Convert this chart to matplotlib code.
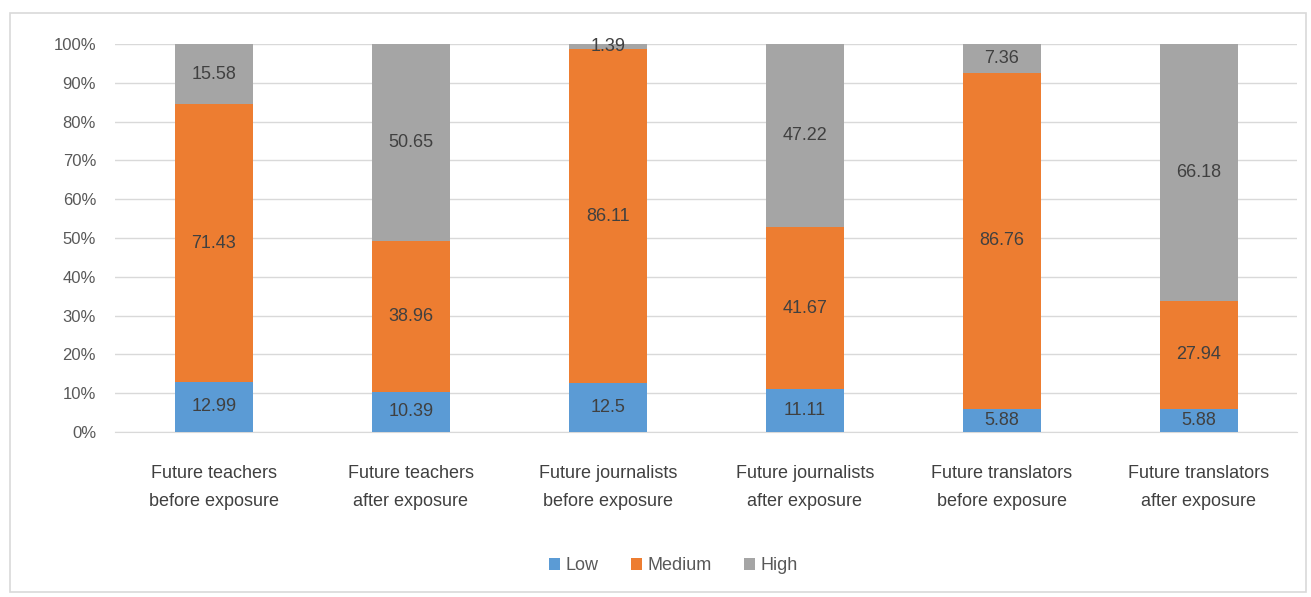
import matplotlib
matplotlib.use("Agg")
import matplotlib.pyplot as plt
import numpy as np
from matplotlib.patches import Rectangle

categories = [
    "Future teachers\nbefore exposure",
    "Future teachers\nafter exposure",
    "Future journalists\nbefore exposure",
    "Future journalists\nafter exposure",
    "Future translators\nbefore exposure",
    "Future translators\nafter exposure",
]
low = [12.99, 10.39, 12.5, 11.11, 5.88, 5.88]
medium = [71.43, 38.96, 86.11, 41.67, 86.76, 27.94]
high = [15.58, 50.65, 1.39, 47.22, 7.36, 66.18]
series_names = ["Low", "Medium", "High"]
colors = ["#5B9BD5", "#ED7D31", "#A5A5A5"]

plt.rcParams["font.family"] = ["Liberation Sans Narrow", "Liberation Sans", "DejaVu Sans"]

fig = plt.figure(figsize=(13.11, 5.97), dpi=100)
fig.patches.append(Rectangle((0.008, 0.008), 0.988, 0.97, transform=fig.transFigure,
                             fill=False, edgecolor="#D9D9D9", linewidth=1.2))
ax = fig.add_axes([0.0881, 0.2764, 0.9016, 0.6499])

x = np.arange(len(categories))
width = 0.40
bottom = np.zeros(len(categories))
for name, vals, col in zip(series_names, [low, medium, high], colors):
    vals = np.array(vals)
    ax.bar(x, vals, width, bottom=bottom, color=col, label=name, zorder=3)
    for xi, b, v in zip(x, bottom, vals):
        ax.text(xi, b + v / 2, f"{v:g}", ha="center", va="center",
                fontsize=13, color="#404040", zorder=4)
    bottom += vals

ax.set_xlim(-0.5, len(categories) - 0.5)
ax.set_ylim(0, 100)
ax.set_yticks(np.arange(0, 101, 10))
ax.set_yticklabels([f"{t}%" for t in range(0, 101, 10)], fontsize=12, color="#595959")
ax.set_xticks(x)
ax.set_xticklabels(categories, fontsize=13, color="#404040", linespacing=1.85)
ax.tick_params(axis="both", length=0)
ax.tick_params(axis="y", pad=14)
ax.tick_params(axis="x", pad=24)
ax.grid(axis="y", color="#D9D9D9", linewidth=1, zorder=0)
for s in ["top", "right", "left"]:
    ax.spines[s].set_visible(False)
ax.spines["bottom"].set_color("#D9D9D9")

ax.legend(loc="center", bbox_to_anchor=(0.472, -0.345), ncol=3, frameon=False,
          fontsize=13, handlelength=0.6, handleheight=0.6, handletextpad=0.3,
          columnspacing=1.8, labelcolor="#595959")

fig.savefig("out.png", dpi=100)
